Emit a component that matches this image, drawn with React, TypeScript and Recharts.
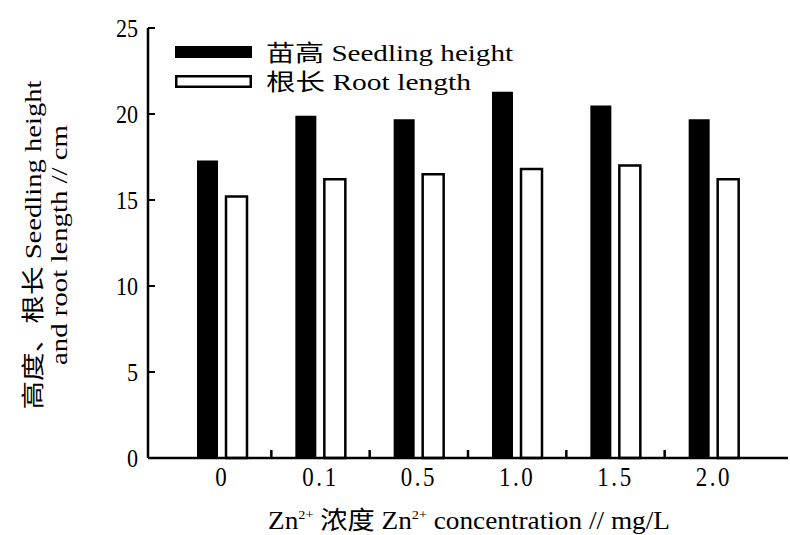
import React from 'react';
import { BarChart, Bar, XAxis, YAxis, Legend } from 'recharts';

const categories = ['0', '0.1', '0.5', '1.0', '1.5', '2.0'];
const seedlingHeight = [17.3, 19.9, 19.7, 21.3, 20.5, 19.7];
const rootLength = [15.2, 16.2, 16.5, 16.8, 17.0, 16.2];
const yTicks = [0, 5, 10, 15, 20, 25];
const seriesOrder = ['seedling', 'root'];

const data = categories.map((c, i) => ({
  conc: c,
  seedling: seedlingHeight[i],
  root: rootLength[i],
}));

const FONT = "'Liberation Serif', 'Noto Sans CJK SC', serif";
const CHART_W = 790;
const MARGIN = { top: 28, right: 2, bottom: 76, left: 0 };
const Y_AXIS_W = 148;
const X_TICK_SIZE = 1;
const X_TICK_MARGIN = 8;
const X_PADDING = { left: 25, right: 25 };

const YTick = (props: any) => {
  const { x, y, payload } = props;
  return (
    <text
      x={0}
      y={0}
      transform={`translate(${x},${y}) scale(0.85,1)`}
      textAnchor="end"
      dominantBaseline="central"
      fontSize={26}
      fontFamily={FONT}
      fill="#000"
    >
      {payload.value}
    </text>
  );
};

const XTick = (props: any) => {
  const { x, y, payload } = props;
  const idx = categories.indexOf(String(payload.value));
  const axisY = Number(y) - X_TICK_SIZE - X_TICK_MARGIN;
  const plotW = CHART_W - MARGIN.left - MARGIN.right - Y_AXIS_W;
  const half = (plotW - X_PADDING.left - X_PADDING.right) / categories.length / 2;
  const bx = Number(x) + half;
  const showBoundary = idx >= 0 && idx < categories.length - 1;
  return (
    <g>
      {showBoundary ? (
        <rect x={bx - 1.25} y={axisY - 8} width={2.5} height={8} fill="#000" />
      ) : null}
      <text
        x={0}
        y={0}
        transform={`translate(${x},${Number(y) + 19}) scale(0.85,1)`}
        textAnchor="middle"
        fontSize={27}
        letterSpacing={3}
        fontFamily={FONT}
        fill="#000"
      >
        {payload.value}
      </text>
    </g>
  );
};

const YTitle = () => (
  <g fontFamily={FONT} fill="#000" fontSize={23}>
    <text
      transform="translate(41,245) rotate(-90)"
      textAnchor="middle"
      textLength={329}
      lengthAdjust="spacingAndGlyphs"
    >
      高度、根长 Seedling height
    </text>
    <text
      transform="translate(67,245) rotate(-90)"
      textAnchor="middle"
      textLength={240}
      lengthAdjust="spacingAndGlyphs"
    >
      and root length // cm
    </text>
  </g>
);

const XTitle = () => (
  <text
    x={268}
    y={529}
    fontFamily={FONT}
    fontSize={25}
    fill="#000"
    textLength={402}
    lengthAdjust="spacingAndGlyphs"
  >
    <tspan>Zn</tspan>
    <tspan fontSize={13} dy={-10}>2+</tspan>
    <tspan dy={10}> 浓度 Zn</tspan>
    <tspan fontSize={13} dy={-10}>2+</tspan>
    <tspan dy={10}> concentration // mg/L</tspan>
  </text>
);

const legendLengths = [247, 205];

const LegendContent = (props: any) => {
  const payload = [...(props.payload || [])].sort(
    (a: any, b: any) => seriesOrder.indexOf(a.dataKey) - seriesOrder.indexOf(b.dataKey)
  );
  return (
    <svg width={380} height={70} style={{ display: 'block' }}>
      {payload.map((entry: any, i: number) => {
        const top = i === 0 ? 11 : 40;
        const isFilled = i === 0;
        return (
          <g key={i}>
            {isFilled ? (
              <rect x={5} y={top} width={77} height={12} fill="#000" />
            ) : (
              <rect x={6.25} y={top + 1.25} width={74.5} height={10.5} fill="#fff" stroke="#000" strokeWidth={2.5} />
            )}
            <text
              x={96}
              y={top + 15}
              fontFamily={FONT}
              fontSize={23}
              fill="#000"
              textLength={legendLengths[i]}
              lengthAdjust="spacingAndGlyphs"
            >
              {entry.value}
            </text>
          </g>
        );
      })}
    </svg>
  );
};

export default function App() {
  return (
    <div style={{ position: 'absolute', left: 0, top: 0, background: '#fff' }}>
      <BarChart
        width={CHART_W}
        height={535}
        data={data}
        margin={MARGIN}
        barSize={21}
        barGap={8}
      >
        <XAxis
          dataKey="conc"
          height={1}
          axisLine={{ stroke: '#000', strokeWidth: 2.5 }}
          tickLine={false}
          tickSize={X_TICK_SIZE}
          tickMargin={X_TICK_MARGIN}
          tick={XTick}
          interval={0}
          padding={X_PADDING}
          label={<XTitle />}
        />
        <YAxis
          width={Y_AXIS_W}
          domain={[0, 25]}
          ticks={yTicks}
          interval={0}
          axisLine={{ stroke: '#000', strokeWidth: 2.5 }}
          tickLine={{ stroke: '#000', strokeWidth: 2 }}
          tickSize={-7}
          tickMargin={17}
          tick={<YTick />}
          label={<YTitle />}
        />
        <Legend
          layout="horizontal"
          verticalAlign="middle"
          align="center"
          content={<LegendContent />}
          wrapperStyle={{ left: 170, top: 35, width: 380, height: 70 }}
        />
        <Bar dataKey="seedling" name="苗高 Seedling height" fill="#000" isAnimationActive={false} />
        <Bar dataKey="root" name="根长 Root length" fill="#fff" stroke="#000" strokeWidth={2.5} isAnimationActive={false} />
      </BarChart>
    </div>
  );
}
